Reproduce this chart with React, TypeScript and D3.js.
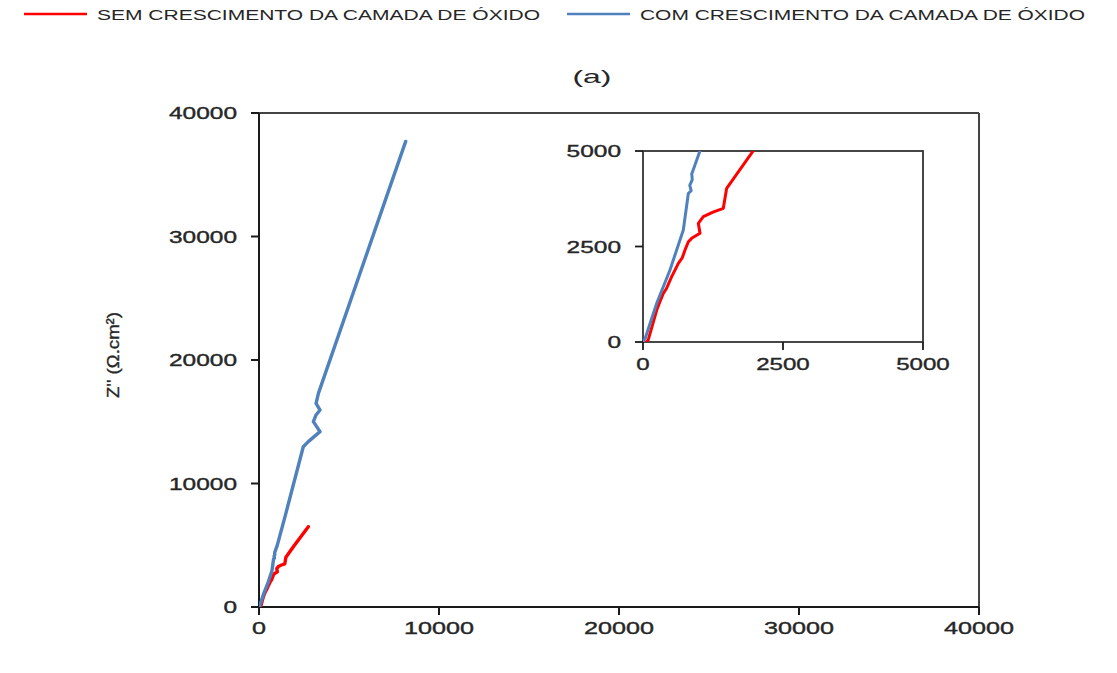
import React from "react";
import * as d3 from "d3";

// Nyquist data (Z' vs Z'') for the two surface conditions
const redX = [60, 95, 245, 300, 363, 420, 512, 560, 631, 700, 750, 810, 869, 1018, 988, 1077, 1250, 1434, 1464, 1494, 1970, 2740];
const redY = [0, 60, 838, 1050, 1274, 1400, 1710, 1850, 2060, 2200, 2408, 2626, 2714, 2845, 3106, 3280, 3400, 3499, 3761, 4023, 5008, 6500];

const blueX = [0, 40, 245, 482, 720, 810, 860, 835, 880, 870, 920, 1018, 1460, 2460, 2740, 3390, 3020, 3170, 3390, 3170, 3300, 8150];
const blueY = [0, 100, 1013, 1885, 2932, 3892, 3960, 4100, 4250, 4400, 4600, 5008, 7400, 12980, 13390, 14200, 15010, 15550, 15950, 16490, 17300, 37700];

const mainTicks = [0, 10000, 20000, 30000, 40000];
const insetTicks = [0, 2500, 5000];

const seriesNames = ["SEM CRESCIMENTO DA CAMADA DE ÓXIDO", "COM CRESCIMENTO DA CAMADA DE ÓXIDO"];
const seriesColors = ["#ff0000", "#4f81bd"];
const titleText = "(a)";
const yLabel = "Z'' (Ω.cm²)";
const xLabel = "Z' (Ω.cm²)";

const FONT = "'Liberation Sans', Arial, sans-serif";
const TEXT = "#262626";
const AXIS = "#1a1a1a";

export default function App() {
  const W = 1117;
  const H = 673;

  const main = { l: 259, r: 979, t: 113, b: 607 };
  const inset = { l: 643, r: 923, t: 151, b: 342 };

  const mx = d3.scaleLinear().domain([0, 40000]).range([main.l, main.r]);
  const my = d3.scaleLinear().domain([0, 40000]).range([main.b, main.t]);
  const ix = d3.scaleLinear().domain([0, 5000]).range([inset.l, inset.r]);
  const iy = d3.scaleLinear().domain([0, 5000]).range([inset.b, inset.t]);

  const red = redX.map((x, i) => [x, redY[i]] as [number, number]);
  const blue = blueX.map((x, i) => [x, blueY[i]] as [number, number]);

  const mainLine = d3.line<[number, number]>().x((d) => mx(d[0])).y((d) => my(d[1]));
  const insetLine = d3.line<[number, number]>().x((d) => ix(d[0])).y((d) => iy(d[1]));

  const series = [red, blue];
  const heavy = { stroke: TEXT, strokeWidth: 0.35 };

  return (
    <svg
      width={W}
      height={H}
      style={{ position: "absolute", left: 0, top: 0, background: "#fff" }}
      fontFamily={FONT}
    >
      <defs>
        <clipPath id="insetClip">
          <rect x={inset.l} y={inset.t} width={inset.r - inset.l} height={inset.b - inset.t} />
        </clipPath>
        <clipPath id="mainClip">
          <rect x={main.l} y={main.t} width={main.r - main.l} height={main.b - main.t} />
        </clipPath>
      </defs>
      <rect x={0} y={0} width={W} height={H} fill="#fff" />

      {/* legend */}
      <line x1={24} x2={87} y1={14} y2={14} stroke={seriesColors[0]} strokeWidth={2.5} />
      <text x={97} y={19.5} fontSize={14} fill={TEXT} textLength={443} lengthAdjust="spacingAndGlyphs">
        {seriesNames[0]}
      </text>
      <line x1={567} x2={630} y1={14} y2={14} stroke={seriesColors[1]} strokeWidth={2.5} />
      <text x={640} y={19.5} fontSize={14} fill={TEXT} textLength={445} lengthAdjust="spacingAndGlyphs">
        {seriesNames[1]}
      </text>

      {/* title */}
      <text x={592} y={83} fontSize={19} fill={TEXT} textAnchor="middle" textLength={39} lengthAdjust="spacingAndGlyphs">
        {titleText}
      </text>

      {/* main frame */}
      <line x1={main.l} x2={main.r} y1={main.t} y2={main.t} stroke="#444" strokeWidth={2} />
      <line x1={main.r} x2={main.r} y1={main.t} y2={main.b} stroke="#444" strokeWidth={2} />
      <line x1={main.l} x2={main.l} y1={main.t} y2={main.b} stroke={AXIS} strokeWidth={2} />
      <line x1={main.l} x2={main.r} y1={main.b} y2={main.b} stroke={AXIS} strokeWidth={2} />

      {mainTicks.map((t) => (
        <g key={"my" + t}>
          <line x1={main.l - 8} x2={main.l} y1={my(t)} y2={my(t)} stroke={AXIS} strokeWidth={2} />
          <text
            x={237}
            y={my(t) + 6}
            fontSize={16.5}
            fill={TEXT}
            {...heavy}
            textAnchor="end"
            textLength={String(t).length * 13.6}
            lengthAdjust="spacingAndGlyphs"
          >
            {t}
          </text>
        </g>
      ))}
      {mainTicks.map((t) => (
        <g key={"mx" + t}>
          <line x1={mx(t)} x2={mx(t)} y1={main.b} y2={main.b + 8} stroke={AXIS} strokeWidth={2} />
          <text
            x={mx(t)}
            y={634}
            fontSize={16.5}
            fill={TEXT}
            {...heavy}
            textAnchor="middle"
            textLength={String(t).length * 14}
            lengthAdjust="spacingAndGlyphs"
          >
            {t}
          </text>
        </g>
      ))}

      {/* axis titles */}
      <text
        transform={`translate(119,355) rotate(-90)`}
        fontSize={17}
        fill={TEXT}
        {...heavy}
        textAnchor="middle"
        textLength={86}
        lengthAdjust="spacingAndGlyphs"
      >
        {yLabel}
      </text>
      <text x={621} y={684.5} fontSize={16} fill={TEXT} textAnchor="middle" textLength={108} lengthAdjust="spacingAndGlyphs">
        {xLabel}
      </text>

      {/* main curves */}
      <g clipPath="url(#mainClip)">
        {series.map((s, i) => (
          <path key={"m" + i} d={mainLine(s) || ""} fill="none" stroke={seriesColors[i]} strokeWidth={3.4} strokeLinejoin="round" strokeLinecap="round" />
        ))}
      </g>

      {/* inset */}
      <rect x={inset.l} y={inset.t} width={inset.r - inset.l} height={inset.b - inset.t} fill="#fff" stroke="#333" strokeWidth={1.8} />
      <g clipPath="url(#insetClip)">
        {series.map((s, i) => (
          <path key={"i" + i} d={insetLine(s) || ""} fill="none" stroke={seriesColors[i]} strokeWidth={3} strokeLinejoin="round" strokeLinecap="round" />
        ))}
      </g>
      {insetTicks.map((t) => (
        <g key={"iy" + t}>
          <line x1={inset.l - 8} x2={inset.l} y1={iy(t)} y2={iy(t)} stroke={AXIS} strokeWidth={1.8} />
          <text
            x={621}
            y={iy(t) + 6}
            fontSize={16}
            fill={TEXT}
            {...heavy}
            textAnchor="end"
            textLength={String(t).length * 13.6}
            lengthAdjust="spacingAndGlyphs"
          >
            {t}
          </text>
        </g>
      ))}
      {insetTicks.map((t) => (
        <g key={"ix" + t}>
          <line x1={ix(t)} x2={ix(t)} y1={inset.b} y2={inset.b + 8} stroke={AXIS} strokeWidth={1.8} />
          <text
            x={ix(t)}
            y={370}
            fontSize={16.5}
            fill={TEXT}
            {...heavy}
            textAnchor="middle"
            textLength={String(t).length * 13.4}
            lengthAdjust="spacingAndGlyphs"
          >
            {t}
          </text>
        </g>
      ))}
    </svg>
  );
}
